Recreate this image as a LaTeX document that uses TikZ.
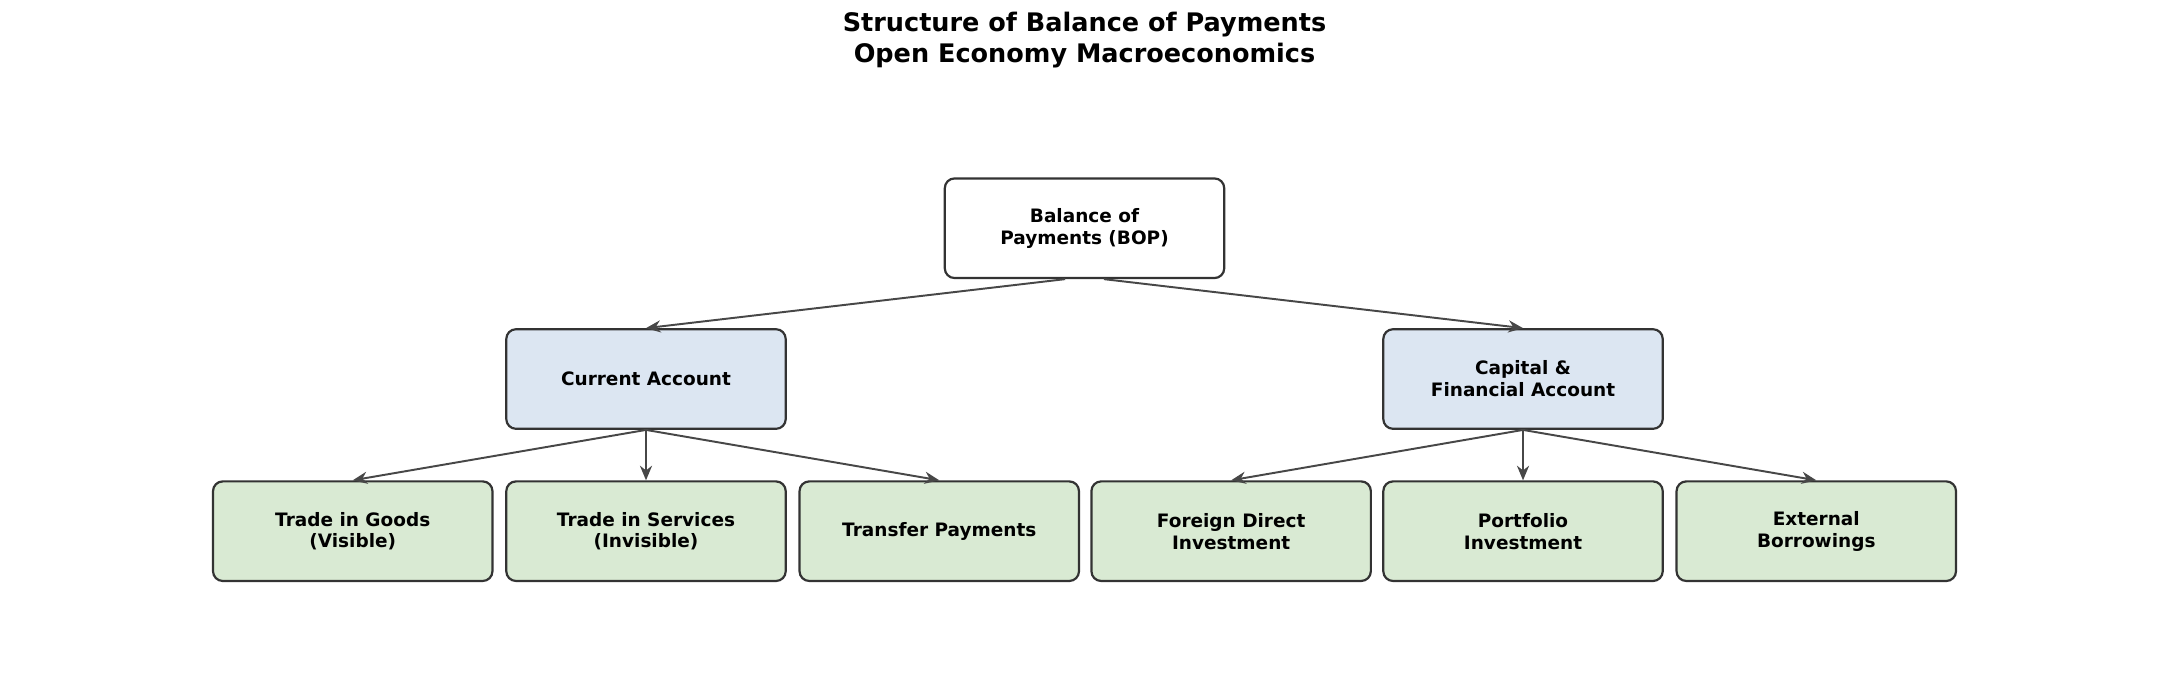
\documentclass[tikz,border=0pt]{standalone}
\usepackage{fontspec}
\setmainfont{DejaVu Sans}
\usetikzlibrary{arrows.meta}
\definecolor{cablue}{HTML}{DCE6F2}
\definecolor{leafgreen}{HTML}{D9EAD3}
\definecolor{edgegray}{HTML}{333333}
\tikzset{
  bopbox/.style={draw=edgegray, line width=0.9pt, rounded corners=4pt, minimum width=4.04cm,
    minimum height=1.44cm, align=center, font=\bfseries\fontsize{7.6}{9}\selectfont},
  link/.style={draw=edgegray!90, line width=0.8pt, -{Stealth[length=6pt,width=5pt]}}
}
\begin{document}
\begin{tikzpicture}
                \useasboundingbox (0,0) rectangle (31.36,10.1);
                \node[align=center, font=\bfseries\fontsize{10.5}{12.5}\selectfont] (title) at (15.68,9.52)
                    {Structure of Balance of Payments\\Open Economy Macroeconomics};
                
                \node[bopbox, fill=white] (bop) at (15.68,6.8) {Balance of\\Payments (BOP)};
                \node[bopbox, fill=cablue] (cur) at (9.34,4.62) {Current Account};
                \node[bopbox, fill=cablue] (cap) at (22.02,4.62) {Capital \&\\Financial Account};
                
                % leaf boxes
                \foreach \t/\x [count=\i] in {{Trade in Goods\\(Visible)}/5.10, {Trade in Services\\(Invisible)}/9.34,
                    {Transfer Payments}/13.58, {Foreign Direct\\Investment}/17.80,
                    {Portfolio\\Investment}/22.02, {External\\Borrowings}/26.26} {
                    \node[bopbox, fill=leafgreen] (leaf\i) at (\x,2.42) {\t};
                }
                
                \draw[link] ([xshift=-0.28cm]bop.south) -- (cur.north);
                \draw[link] ([xshift=0.28cm]bop.south) -- (cap.north);
                \foreach \i in {1,2,3} {
                    \draw[link] (cur.south) -- (leaf\i.north);
                }
                \foreach \i in {4,5,6} {
                    \draw[link] (cap.south) -- (leaf\i.north);
                }
            \end{tikzpicture}
\end{document}
